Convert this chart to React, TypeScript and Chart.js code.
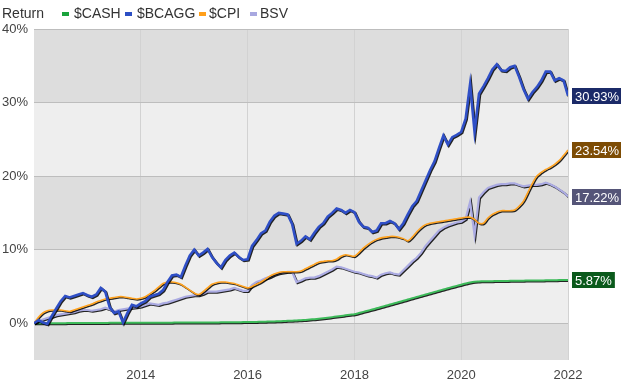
import { useEffect, useRef } from 'react';
import { Chart, registerables } from 'chart.js';
Chart.register(...registerables);

const START_YEAR = 2012;
const X_MIN = 2012;
const X_MAX = 2022;
const Y_MIN = -5;
const Y_MAX = 40;
const xTicks = [2014, 2016, 2018, 2020, 2022];
const yTicks = [0, 10, 20, 30, 40];
const seriesNames = ['$CASH', '$BCAGG', '$CPI', 'BSV'];

const cash = [
  0, 0, 0, 0, 0, 0.01, 0.01, 0.01, 0.02, 0.02, 0.02, 0.03,
  0.03, 0.03, 0.04, 0.04, 0.04, 0.05, 0.05, 0.05, 0.06, 0.06, 0.06, 0.06,
  0.07, 0.07, 0.07, 0.07, 0.08, 0.08, 0.08, 0.08, 0.09, 0.09, 0.09, 0.10,
  0.10, 0.10, 0.10, 0.11, 0.11, 0.11, 0.12, 0.12, 0.12, 0.13, 0.14, 0.15,
  0.16, 0.17, 0.18, 0.19, 0.21, 0.23, 0.25, 0.27, 0.29, 0.32, 0.35, 0.38,
  0.41, 0.45, 0.50, 0.55, 0.61, 0.68, 0.75, 0.83, 0.91, 0.99, 1.07, 1.15,
  1.23, 1.38, 1.54, 1.70, 1.86, 2.03, 2.20, 2.37, 2.54, 2.71, 2.88, 3.05,
  3.22, 3.39, 3.56, 3.73, 3.90, 4.07, 4.24, 4.41, 4.58, 4.75, 4.92, 5.08,
  5.24, 5.40, 5.55, 5.65, 5.68, 5.70, 5.71, 5.72, 5.73, 5.74, 5.75, 5.76,
  5.77, 5.78, 5.79, 5.80, 5.81, 5.82, 5.82, 5.83, 5.84, 5.85, 5.86, 5.86,
  5.87,
];

const bcagg = [
  0.0, 0.4, 0.1, -0.1, 1.0, 2.0, 3.0, 3.7, 3.5, 3.7, 3.9, 4.1,
  3.8, 3.6, 3.9, 4.8, 4.3, 2.2, 1.4, 1.6, 0.1, 1.4, 2.5, 2.3,
  2.7, 3.0, 3.6, 3.8, 4.0, 4.5, 5.6, 6.5, 6.6, 6.3, 7.8, 9.2,
  10.0, 9.2, 9.6, 10.1, 9.0, 8.2, 7.6, 8.6, 9.2, 9.6, 9.0, 8.6,
  8.7, 10.5, 11.3, 12.2, 12.6, 13.8, 14.6, 15.0, 14.9, 14.8, 13.5, 10.8,
  11.2, 11.8, 11.4, 12.3, 13.1, 13.6, 14.5, 15.0, 15.6, 15.4, 15.0, 15.4,
  15.1, 13.8, 13.1, 13.0, 12.4, 12.6, 13.6, 13.6, 13.9, 13.6, 12.8, 13.6,
  14.8, 15.9, 16.6, 18.0, 19.4, 20.8, 22.0, 23.8, 25.5, 24.3, 25.3, 25.6,
  26.0, 27.8, 32.5, 26.0, 31.2, 32.2, 33.3, 34.5, 35.2, 34.4, 34.3, 34.8,
  35.0, 33.5, 31.8, 30.5, 31.4, 32.1, 33.0, 34.2, 34.2, 33.0, 33.3, 33.0,
  30.93,
];

const cpi = [
  0.0, 0.8, 1.4, 1.7, 1.8, 1.8, 1.8, 1.7, 1.6, 1.8, 2.0, 2.2,
  2.4, 2.6, 2.9, 3.1, 3.3, 3.4, 3.5, 3.6, 3.6, 3.5, 3.4, 3.3,
  3.4, 3.6, 4.0, 4.4, 4.9, 5.4, 5.6, 5.6, 5.5, 5.3, 4.9, 4.5,
  4.1, 3.9, 4.3, 4.8, 5.3, 5.5, 5.6, 5.6, 5.5, 5.4, 5.2, 5.0,
  4.8, 5.0, 5.3, 5.6, 6.0, 6.4, 6.7, 6.9, 7.0, 7.0, 7.0, 7.0,
  7.1, 7.4, 7.7, 8.0, 8.3, 8.4, 8.5, 8.5, 8.7, 9.1, 9.3, 9.2,
  9.1, 9.6, 10.2, 10.7, 11.1, 11.4, 11.6, 11.7, 11.8, 11.8, 11.7, 11.5,
  11.2, 11.7, 12.4, 13.0, 13.4, 13.6, 13.7, 13.8, 13.9, 14.0, 14.1, 14.2,
  14.3, 14.4, 14.4, 14.1, 13.6, 13.6, 14.3, 14.8, 15.1, 15.3, 15.3, 15.3,
  15.4, 15.9, 16.6, 17.8, 19.0, 20.0, 20.5, 20.9, 21.2, 21.6, 22.1, 22.8,
  23.54,
];

const bsv = [
  0.0, 0.3, 0.5, 0.7, 0.9, 1.1, 1.2, 1.3, 1.4, 1.5, 1.7, 1.8,
  1.8, 1.7, 1.8, 1.9, 2.1, 1.9, 1.6, 1.8, 1.9, 2.0, 2.1, 2.2,
  2.3, 2.5, 2.7, 2.6, 2.5, 2.7, 2.8, 3.0, 3.2, 3.4, 3.6, 3.7,
  3.8, 3.8, 4.0, 4.3, 4.3, 4.3, 4.4, 4.5, 4.6, 4.8, 4.6, 4.4,
  4.4, 5.2, 5.6, 5.8, 6.1, 6.3, 6.6, 6.8, 6.9, 7.0, 7.0, 5.6,
  5.8, 6.1, 6.2, 6.2, 6.4, 6.7, 7.0, 7.3, 7.7, 7.6, 7.4, 7.2,
  7.0, 6.9, 6.7, 6.5, 6.4, 6.2, 6.6, 6.8, 6.9, 6.7, 6.6, 7.2,
  7.8, 8.4, 8.9, 9.6, 10.5, 11.2, 11.9, 12.6, 13.0, 13.3, 13.5, 13.7,
  13.8, 14.2, 16.5, 12.0, 17.1, 17.8, 18.4, 18.6, 18.8, 18.9, 18.9, 19.0,
  19.0, 18.8, 18.6, 18.7, 18.8, 18.8, 18.9, 19.1, 18.9, 18.6, 18.2, 17.8,
  17.22,
];

const lineColors = ['#3dba5a', '#2f4fc6', '#ffa21f', '#ababe2'];
const legendColors = ['#1aa33c', '#2c4fc4', '#ff9f1a', '#a8a8e0'];
const labelColors = ['#0b5a1c', '#1b2a68', '#7d4c04', '#555578'];
const lineWidths = [2, 2.6, 1.6, 2.2];
const drawOrder = [3, 0, 1, 2];
const legendX = [62, 125, 199, 250];

const FONT = '"Liberation Sans", Arial, Helvetica, sans-serif';

const toPoints = (arr: number[]) =>
  arr.map((v, i) => ({ x: START_YEAR + i / 12, y: v }));

const bandsPlugin = {
  id: 'bands',
  beforeDraw(chart: any) {
    const { ctx, chartArea: a, scales } = chart;
    const y = scales.y;
    const edges = [Y_MIN, ...yTicks];
    ctx.save();
    for (let k = 0; k < edges.length - 1; k++) {
      const top = y.getPixelForValue(edges[k + 1]);
      const bot = y.getPixelForValue(edges[k]);
      ctx.fillStyle = k % 2 === 0 ? '#dddddd' : '#eeeeee';
      ctx.fillRect(a.left, top, a.right - a.left, bot - top);
    }
    ctx.restore();
  },
};

const shadowPlugin = {
  id: 'lineShadow',
  beforeDatasetDraw(chart: any) {
    const ctx = chart.ctx;
    ctx.save();
    ctx.shadowColor = 'rgba(0,0,0,0.85)';
    ctx.shadowOffsetX = 1;
    ctx.shadowOffsetY = 1;
    ctx.shadowBlur = 0;
  },
  afterDatasetDraw(chart: any) {
    chart.ctx.restore();
  },
};

const endLabelsPlugin = {
  id: 'endLabels',
  afterDraw(chart: any) {
    const { ctx, chartArea: a, scales } = chart;
    const y = scales.y;
    ctx.save();
    ctx.font = `13px ${FONT}`;
    ctx.textBaseline = 'middle';
    ctx.textAlign = 'left';
    chart.data.datasets.forEach((ds: any, i: number) => {
      const last = ds.data[ds.data.length - 1].y;
      const py = Math.round(y.getPixelForValue(last));
      const txt = last.toFixed(2) + '%';
      const w = ctx.measureText(txt).width + 6;
      ctx.fillStyle = labelColors[i];
      ctx.fillRect(a.right + 4, py - 8, w, 16);
      ctx.fillStyle = '#ffffff';
      ctx.fillText(txt, a.right + 7, py + 1);
    });
    ctx.restore();
  },
};

export default function App() {
  const ref = useRef<HTMLCanvasElement | null>(null);

  useEffect(() => {
    document.body.style.margin = '0';
    if (!ref.current) return;
    Chart.defaults.font.family = FONT;
    Chart.defaults.font.size = 13;
    Chart.defaults.color = '#444';
    const chart = new Chart(ref.current, {
      type: 'line',
      data: {
        datasets: [cash, bcagg, cpi, bsv].map((arr, i) => ({
          label: seriesNames[i],
          data: toPoints(arr),
          borderColor: lineColors[i],
          backgroundColor: lineColors[i],
          borderWidth: lineWidths[i],
          pointRadius: 0,
          tension: i === 0 || i === 2 ? 0.35 : 0,
          order: drawOrder[i],
          fill: false,
        })),
      },
      options: {
        animation: false,
        responsive: false,
        devicePixelRatio: 1,
        layout: { padding: { top: 29, right: 53, left: 0, bottom: 0 } },
        plugins: {
          legend: { display: false },
          tooltip: { enabled: false },
        },
        scales: {
          x: {
            type: 'linear',
            min: X_MIN,
            max: X_MAX,
            afterBuildTicks: (s: any) => {
              s.ticks = xTicks.map((v) => ({ value: v }));
            },
            afterFit: (s: any) => {
              s.height = 27;
            },
            ticks: {
              padding: 8,
              color: '#444',
              font: { size: 13 },
              maxRotation: 0,
              autoSkip: false,
              callback: (v: any) => String(v),
            },
            grid: { color: '#d2d2d2', drawTicks: false, lineWidth: 1 },
            border: { display: false },
          },
          y: {
            type: 'linear',
            min: Y_MIN,
            max: Y_MAX,
            afterBuildTicks: (s: any) => {
              s.ticks = yTicks.map((v) => ({ value: v }));
            },
            afterFit: (s: any) => {
              s.width = 34;
            },
            ticks: {
              padding: 6,
              color: '#444',
              font: { size: 13 },
              callback: (v: any) => v + '%',
            },
            grid: { color: '#bdbdbd', drawTicks: false, lineWidth: 1 },
            border: { display: false },
          },
        },
      },
      plugins: [bandsPlugin, shadowPlugin, endLabelsPlugin],
    } as any);
    return () => chart.destroy();
  }, []);

  return (
    <div style={{ position: 'relative', width: 621, height: 387, fontFamily: FONT }}>
      <canvas ref={ref} width={621} height={387} style={{ display: 'block' }} />
      <div
        style={{
          position: 'absolute',
          left: 2,
          top: 5,
          fontSize: 14,
          color: '#333',
          lineHeight: '16px',
        }}
      >
        Return
      </div>
      {seriesNames.map((name, i) => (
        <div
          key={name}
          style={{
            position: 'absolute',
            left: legendX[i],
            top: 5,
            fontSize: 14,
            color: '#333',
            lineHeight: '16px',
            display: 'flex',
            alignItems: 'center',
            whiteSpace: 'nowrap',
          }}
        >
          <span
            style={{
              display: 'inline-block',
              width: 7,
              height: 4,
              marginTop: 2,
              background: legendColors[i],
              marginRight: name.length > 4 ? 5 : 3,
            }}
          />
          <span>{name}</span>
        </div>
      ))}
    </div>
  );
}
